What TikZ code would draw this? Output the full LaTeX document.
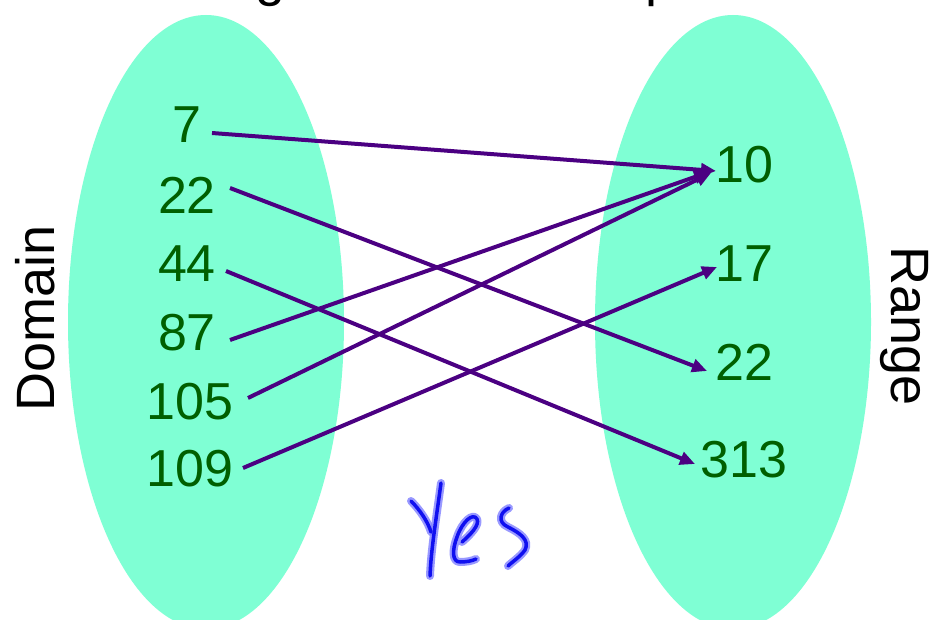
\documentclass[tikz,border=0pt]{standalone}
\usepackage{fontspec}
\setmainfont{Liberation Sans}
\usetikzlibrary{arrows.meta}
\definecolor{aqua}{HTML}{7FFFD4}
\definecolor{numgreen}{HTML}{005F00}
\definecolor{arrpurple}{HTML}{4B0082}
\definecolor{inkblue}{HTML}{1010F0}
\definecolor{inkhalo}{HTML}{8080FF}
\tikzset{
  num/.style={text=numgreen, font=\fontsize{52}{52}\selectfont, inner sep=0pt, anchor=center},
  lab/.style={text=black, font=\fontsize{54}{54}\selectfont, inner sep=0pt},
  maparrow/.style={draw=arrpurple, line width=4pt, -{Triangle[length=15pt,width=13pt]}},
  halo/.style={draw=inkhalo, line width=8pt, line cap=round, line join=round, opacity=0.8},
  ink/.style={draw=inkblue, line width=3.5pt, line cap=round, line join=round}
}
\begin{document}
\begin{tikzpicture}[x=1pt,y=-1pt]
\useasboundingbox (0,0) rectangle (934,620);
\clip (0,0) rectangle (934,620);
\fill[white] (0,0) rectangle (934,620);
% title fragments (cut off at top)
\node[lab, anchor=base] (tg) at (271,-4) {g};
\node[lab, anchor=base west] (tp) at (645,-4) {p};
% ellipses
\fill[aqua] (206,322) ellipse [x radius=138, y radius=307];
\fill[aqua] (733,322) ellipse [x radius=138, y radius=307];
% side labels
\node[lab, rotate=90] (dom) at (35,318) {Domain};
\node[lab, rotate=-90] (ran) at (904,326) {Range};
% domain numbers
\node[num] (d7) at (187,125) {7};
\node[num] (d22) at (187,195) {22};
\node[num] (d44) at (187,264) {44};
\node[num] (d87) at (187,333) {87};
\node[num] (d105) at (190,402) {105};
\node[num] (d109) at (190,469) {109};
% range numbers
\node[num] (r10) at (744,165) {10};
\node[num] (r17) at (744,264) {17};
\node[num] (r22) at (744,362) {22};
\node[num] (r313) at (744,460) {313};
% connector end coordinates
\coordinate (s7) at (212,133);
\coordinate (s22) at (230,188);
\coordinate (s44) at (226,271);
\coordinate (s87) at (230,340);
\coordinate (s105) at (248,398);
\coordinate (s109) at (243,468);
\coordinate (e10a) at (716,171);
\coordinate (e10b) at (709,172);
\coordinate (e10c) at (711,173);
\coordinate (e17) at (717,267);
\coordinate (e22) at (707,371);
\coordinate (e313) at (695,464);
\draw[maparrow] (s7) -- (e10a);
\draw[maparrow] (s22) -- (e22);
\draw[maparrow] (s44) -- (e313);
\draw[maparrow] (s87) -- (e10b);
\draw[maparrow] (s105) -- (e10c);
\draw[maparrow] (s109) -- (e17);
% handwritten Yes
\foreach \st in {halo,ink}{
  \draw[\st] (411,501) .. controls (420,510) and (428,522) .. (431,532);
  \draw[\st] (441,483) .. controls (436,520) and (431,550) .. (430,576);
  \draw[\st] (462,542) .. controls (470,535) and (480,525) .. (477,519)
             .. controls (473,512) and (462,522) .. (457,537)
             .. controls (452,550) and (452,562) .. (460,562)
             .. controls (466,562) and (472,561) .. (476,559);
  \draw[\st] (509,508) .. controls (500,512) and (497,522) .. (508,527)
             .. controls (520,533) and (530,540) .. (525,550)
             .. controls (520,557) and (512,562) .. (508,566);
}
\end{tikzpicture}
\end{document}
